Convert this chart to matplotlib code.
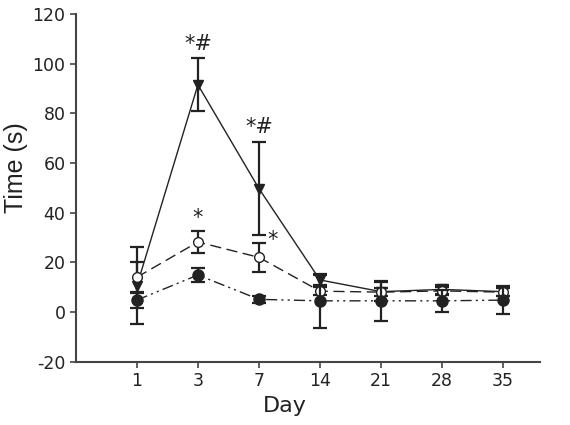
import matplotlib.pyplot as plt
import numpy as np

plt.rcParams["axes.unicode_minus"] = False

# === DATA ===
days = ["1", "3", "7", "14", "21", "28", "35"]

tri_mean = [10.5, 91.5, 49.7, 12.9, 8.2, 9.1, 8.2]
tri_err = [15.5, 10.7, 18.8, 2.1, 3.7, 1.7, 1.7]

open_mean = [14.0, 28.2, 22.0, 8.4, 8.0, 8.5, 8.0]
open_err = [6.0, 4.4, 5.9, 1.5, 1.5, 1.5, 1.5]

fill_mean = [4.8, 14.9, 5.1, 4.5, 4.5, 4.5, 4.8]
fill_err = [3.0, 2.8, 1.5, 10.8, 8.0, 4.5, 5.5]

# significance marks: (day index, y value, text, x offset)
marks = [(1, 104, "*#", 0.0), (2, 70.5, "*#", 0.0),
         (1, 34.0, "*", 0.0), (2, 25.0, "*", 0.22)]

AXC = "#444444"
INK = "#222222"


def main():
    fig = plt.figure(figsize=(5.7, 4.25), dpi=100)
    ax = fig.add_axes([0.133, 0.149, 0.814, 0.818])
    x = np.arange(1, len(days) + 1)

    ax.errorbar(x, tri_mean, yerr=tri_err, color=INK, lw=1.0, ls="-",
                marker="v", ms=7, mfc=INK, mec=INK,
                elinewidth=1.6, capsize=5, capthick=1.6, zorder=4)
    ax.errorbar(x, open_mean, yerr=open_err, color=INK, lw=1.0,
                ls=(0, (8, 4)), marker="o", ms=7, mfc="white", mec=INK,
                elinewidth=1.6, capsize=5, capthick=1.6, zorder=5)
    ax.errorbar(x, fill_mean, yerr=fill_err, color=INK, lw=1.0,
                ls=(0, (8, 3, 1.5, 3, 1.5, 3)), marker="o", ms=8,
                mfc=INK, mec=INK,
                elinewidth=1.6, capsize=5, capthick=1.6, zorder=6)

    for i, yv, txt, dx in marks:
        ax.text(x[i] + dx, yv, txt, ha="center", va="bottom", fontsize=15,
                color=INK)

    ax.set_xlim(0, 7.6)
    ax.set_ylim(-20, 120)
    ax.set_yticks(np.arange(-20, 121, 20))
    ax.set_xticks(x)
    ax.set_xticklabels(days)
    ax.tick_params(labelsize=12.5, color=AXC, length=4, width=1.2,
                   labelcolor=INK)
    for s in ["top", "right"]:
        ax.spines[s].set_visible(False)
    for s in ["left", "bottom"]:
        ax.spines[s].set_color(AXC)
        ax.spines[s].set_linewidth(1.5)

    ax.set_xlabel("Day", fontsize=16, color=INK)
    ax.set_ylabel("Time (s)", fontsize=18, color=INK,
                  family="Liberation Sans")
    ax.xaxis.set_label_coords(0.45, -0.1)
    ax.yaxis.set_label_coords(-0.102, 0.557)

    fig.savefig("out.png", dpi=100)


if __name__ == "__main__":
    main()
